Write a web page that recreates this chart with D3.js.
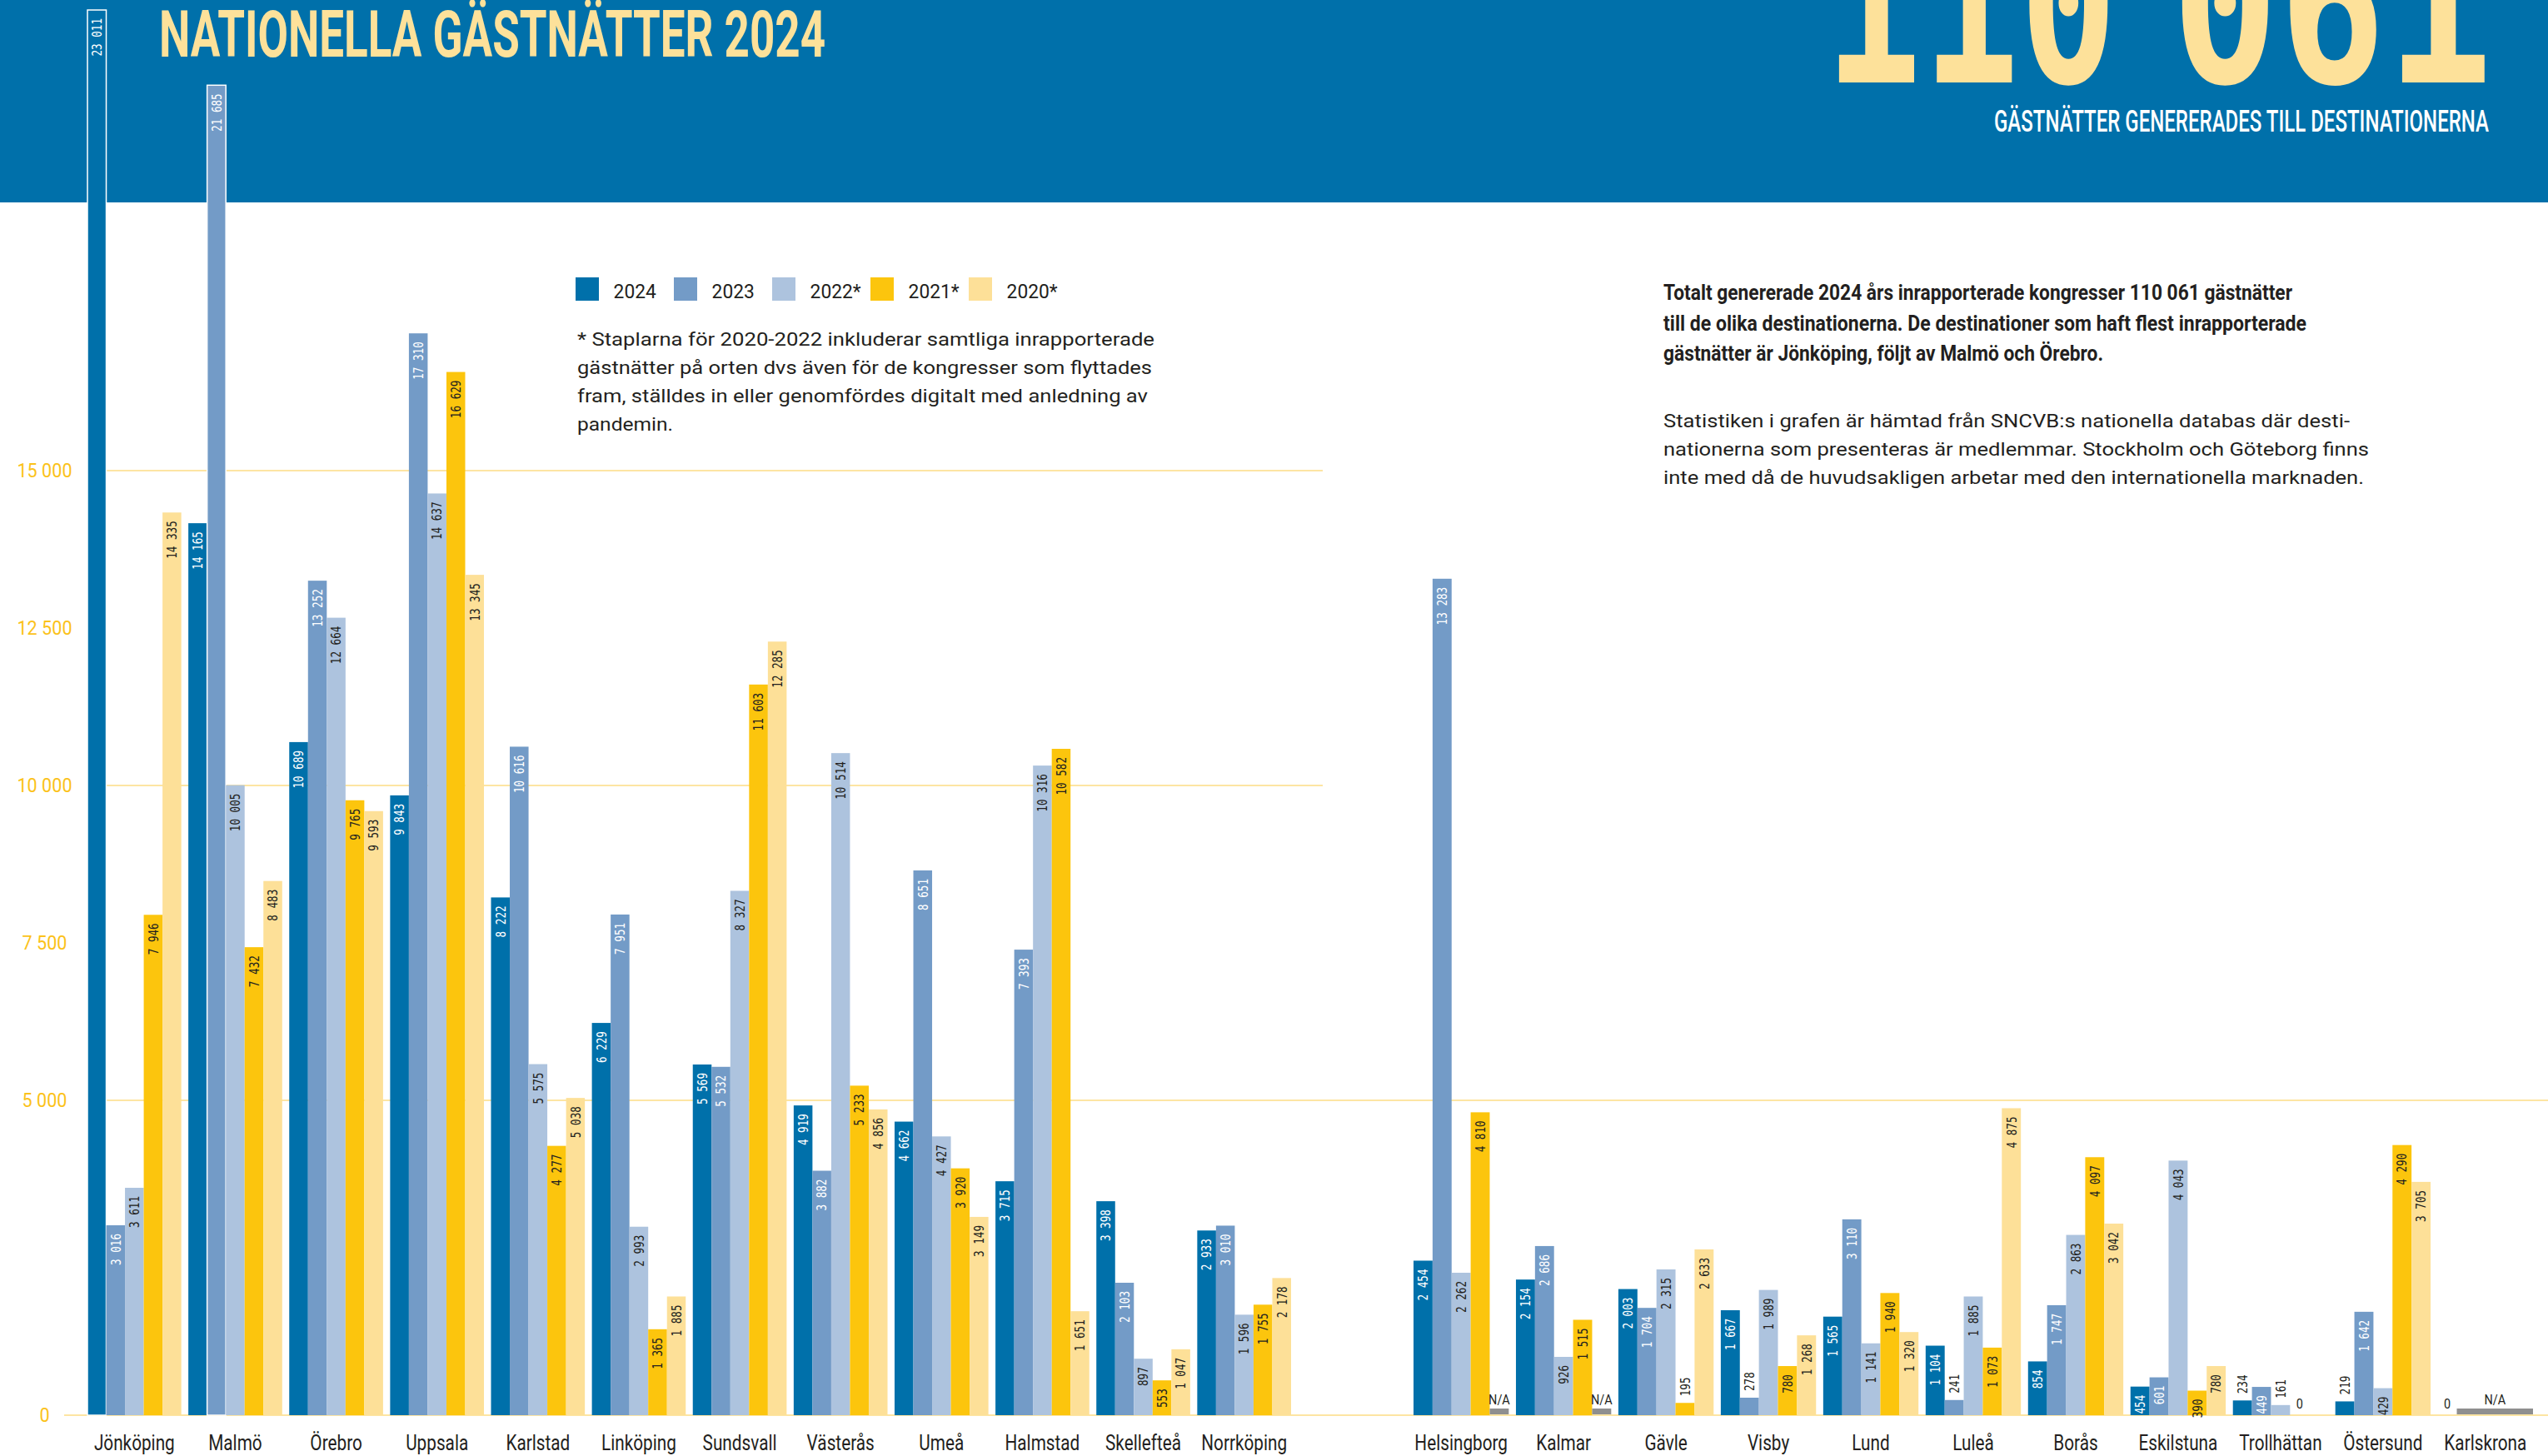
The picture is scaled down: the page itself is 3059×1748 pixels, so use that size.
<!DOCTYPE html>
<html>
<head>
<meta charset="utf-8">
<script src="https://cdn.jsdelivr.net/npm/d3@7"></script>
<style>
  body { margin: 0; background: #fff; }
  svg { display: block; }
</style>
</head>
<body>
<div id="chart"></div>
<script>
// ---- data ----
const citiesLeft = ["Jönköping", "Malmö", "Örebro", "Uppsala", "Karlstad", "Linköping",
    "Sundsvall", "Västerås", "Umeå", "Halmstad", "Skellefteå", "Norrköping"];
const citiesRight = ["Helsingborg", "Kalmar", "Gävle", "Visby", "Lund", "Luleå",
    "Borås", "Eskilstuna", "Trollhättan", "Östersund", "Karlskrona"];

const years = ["2024", "2023", "2022", "2021", "2020"];
const legendLabels = ["2024", "2023", "2022*", "2021*", "2020*"];

// one value per city (left panel first, then right panel). "NA" = N/A, null = no bar
const v2024 = [23011, 14165, 10689, 9843, 8222, 6229, 5569, 4919, 4662, 3715, 3398, 2933,
    2454, 2154, 2003, 1667, 1565, 1104, 854, 454, 234, 219, 0];
const v2023 = [3016, 21685, 13252, 17310, 10616, 7951, 5532, 3882, 8651, 7393, 2103, 3010,
    13283, 2686, 1704, 278, 3110, 241, 1747, 601, 449, 1642, "NA"];
const v2022 = [3611, 10005, 12664, 14637, 5575, 2993, 8327, 10514, 4427, 10316, 897, 1596,
    2262, 926, 2315, 1989, 1141, 1885, 2863, 4043, 161, 429, "NA"];
const v2021 = [7946, 7432, 9765, 16629, 4277, 1365, 11603, 5233, 3920, 10582, 553, 1755,
    4810, 1515, 195, 780, 1940, 1073, 4097, 390, 0, 4290, "NA"];
const v2020 = [14335, 8483, 9593, 13345, 5038, 1885, 12285, 4856, 3149, 1651, 1047, 2178,
    "NA", "NA", 2633, 1268, 1320, 4875, 3042, 780, null, 3705, "NA"];

const yTickValues = [0, 5000, 7500, 10000, 12500, 15000];
const gridValues = [0, 5000, 10000, 15000];

const titleText = "NATIONELLA GÄSTNÄTTER 2024";
const totalText = "110 061";
const subtitleText = "GÄSTNÄTTER GENERERADES TILL DESTINATIONERNA";

const noteLines = [
    "* Staplarna för 2020-2022 inkluderar samtliga inrapporterade",
    "gästnätter på orten dvs även för de kongresser som flyttades",
    "fram, ställdes in eller genomfördes digitalt med anledning av",
    "pandemin."
];
const leadLines = [
    "Totalt genererade 2024 års inrapporterade kongresser 110 061 gästnätter",
    "till de olika destinationerna. De destinationer som haft flest inrapporterade",
    "gästnätter är Jönköping, följt av Malmö och Örebro."
];
const bodyLines = [
    "Statistiken i grafen är hämtad från SNCVB:s nationella databas där desti-",
    "nationerna som presenteras är medlemmar. Stockholm och Göteborg finns",
    "inte med då de huvudsakligen arbetar med den internationella marknaden."
];

// ---- setup ----
const width = 3059;
const height = 1748;
const headerH = 243;

const colors = ["#0070aa", "#739bc7", "#adc3de", "#fcc50d", "#fde098"];
const yellow = "#fde19a";
const dark = "#231f20";
const sans = "Roboto, 'Open Sans', sans-serif";
const mono = "'DejaVu Sans Mono', 'Liberation Mono', monospace";

const fmt = d3.formatLocale({ thousands: " ", grouping: [3], decimal: ",", currency: ["", ""] }).format(",d");

const svg = d3.select("#chart").append("svg")
    .attr("width", width)
    .attr("height", height)
    .attr("viewBox", `0 0 ${width} ${height}`);

// header band
svg.append("rect")
    .attr("width", width)
    .attr("height", headerH)
    .attr("fill", "#0070aa");

// y scale: the two tallest bars are squeezed a little so they fit the page
const base = 1699;
const perUnit = 378 / 5000;
const y = d3.scaleLinear()
    .domain([0, 16000, 23011])
    .range([base, base - 16000 * perUnit, 12]);

const xLeft = d3.scaleBand().domain(citiesLeft).range([105, 1550]).paddingInner(0.07);
const xRight = d3.scaleBand().domain(citiesRight).range([1697, 3041]).paddingInner(0.07);
const subLeft = d3.scaleBand().domain(years).range([0, xLeft.bandwidth()]);
const subRight = d3.scaleBand().domain(years).range([0, xRight.bandwidth()]);

// gridlines
svg.append("g")
    .selectAll("line")
    .data(gridValues)
    .join("line")
    .attr("x1", d => d === 0 ? 77 : 106)
    .attr("x2", d => d <= 5000 ? width : 1588)
    .attr("y1", d => y(d))
    .attr("y2", d => y(d))
    .attr("stroke", "#fde5a3")
    .attr("stroke-width", 2);

// y axis labels
const yAxis = svg.append("g")
    .attr("transform", "translate(53.5,0)")
    .call(d3.axisLeft(y).tickValues(yTickValues).tickSize(0).tickPadding(0).tickFormat(fmt));
yAxis.select(".domain").remove();
yAxis.selectAll("text")
    .attr("text-anchor", "middle")
    .attr("font-family", sans)
    .attr("font-size", 24)
    .attr("fill", "#fbc21b")
    .attr("transform", "scale(0.9,1)");

// build groups
const series = [v2024, v2023, v2022, v2021, v2020];
const allCities = citiesLeft.concat(citiesRight);

const bars = [];
const naRuns = [];
allCities.forEach((city, i) => {
    const left = i < citiesLeft.length;
    const xs = left ? xLeft : xRight;
    const sub = left ? subLeft : subRight;
    const x0 = xs(city);
    let run = null;
    years.forEach((yr, j) => {
        const v = series[j][i];
        const x = x0 + sub(yr);
        if (v === "NA") {
            if (run) { run.x1 = x + sub.bandwidth(); }
            else { run = { x0: x, x1: x + sub.bandwidth() }; naRuns.push(run); }
            return;
        }
        run = null;
        if (v === null) return;
        bars.push({ city, year: j, value: v, x, w: sub.bandwidth() });
    });
});

// bars
svg.append("g")
    .selectAll("rect")
    .data(bars.filter(d => d.value > 0))
    .join("rect")
    .attr("x", d => d.x)
    .attr("width", d => d.w)
    .attr("y", d => y(d.value))
    .attr("height", d => y(0) - y(d.value))
    .attr("fill", d => colors[d.year])
    .attr("stroke", d => y(d.value) < headerH ? "#fff" : "none")
    .attr("stroke-width", 1.5);

// N/A markers
svg.append("g")
    .selectAll("rect")
    .data(naRuns)
    .join("rect")
    .attr("x", d => d.x0)
    .attr("width", d => d.x1 - d.x0)
    .attr("y", y(0) - 8)
    .attr("height", 7)
    .attr("fill", "#8f8f8f");

svg.append("g")
    .selectAll("text")
    .data(naRuns)
    .join("text")
    .attr("transform", d => `translate(${(d.x0 + d.x1) / 2},${y(0) - 13}) scale(0.85,1)`)
    .attr("text-anchor", "middle")
    .attr("font-family", sans)
    .attr("font-size", 17)
    .attr("fill", dark)
    .text("N/A");

// value labels
const labelThreshold = 300;
svg.append("g")
    .selectAll("text")
    .data(bars)
    .join("text")
    .each(function (d) {
        const t = d3.select(this);
        const cx = d.x + d.w / 2;
        const s = fmt(d.value);
        if (d.value === 0) {
            t.attr("transform", `translate(${cx},${y(0) - 8}) scale(0.85,1)`)
                .attr("text-anchor", "middle")
                .attr("font-family", sans)
                .attr("font-size", 17)
                .attr("fill", dark)
                .text(s);
            return;
        }
        const inside = d.value >= labelThreshold;
        t.attr("transform", inside
                ? `translate(${cx},${y(d.value) + 10}) rotate(-90)`
                : `translate(${cx},${y(d.value) - 8}) rotate(-90)`)
            .attr("text-anchor", inside ? "end" : "start")
            .attr("dy", "0.36em")
            .attr("font-family", mono)
            .attr("font-size", 16)
            .attr("textLength", s.length * 7.6)
            .attr("lengthAdjust", "spacingAndGlyphs")
            .attr("fill", inside && d.year < 2 ? "#fff" : dark)
            .text(s);
    });

// category labels
[xLeft, xRight].forEach(xs => {
    const g = svg.append("g")
        .attr("transform", `translate(0,${base})`)
        .call(d3.axisBottom(xs).tickSize(0).tickPadding(24));
    g.select(".domain").remove();
    g.selectAll("text")
        .attr("font-family", sans)
        .attr("font-size", 25)
        .attr("fill", dark)
        .attr("transform", "scale(0.83,1)");
});

// header texts
svg.append("text")
    .attr("x", 191)
    .attr("y", 68)
    .attr("font-family", sans)
    .attr("font-weight", 700)
    .attr("font-size", 78)
    .attr("textLength", 800)
    .attr("lengthAdjust", "spacingAndGlyphs")
    .attr("fill", yellow)
    .text(titleText);

// big total, one word per text so the gap stays narrow
const totalWords = totalText.split(" ");
const totalSpans = [[2190, 352], [2607, 386]];
svg.append("g")
    .selectAll("text")
    .data(totalWords)
    .join("text")
    .attr("x", (d, i) => totalSpans[i][0])
    .attr("y", 99)
    .attr("font-family", mono)
    .attr("font-weight", 700)
    .attr("font-size", 262)
    .attr("textLength", (d, i) => totalSpans[i][1])
    .attr("lengthAdjust", "spacingAndGlyphs")
    .attr("fill", yellow)
    .text(d => d);

svg.append("text")
    .attr("x", 2394)
    .attr("y", 158)
    .attr("font-family", sans)
    .attr("font-weight", 500)
    .attr("font-size", 36)
    .attr("textLength", 594)
    .attr("lengthAdjust", "spacingAndGlyphs")
    .attr("fill", "#fff")
    .text(subtitleText);

// legend
const legend = svg.append("g")
    .selectAll("g")
    .data(legendLabels)
    .join("g")
    .attr("transform", (d, i) => `translate(${691 + i * 118},333)`);
legend.append("rect")
    .attr("width", 28)
    .attr("height", 28)
    .attr("fill", (d, i) => colors[i]);
legend.append("text")
    .attr("x", 48)
    .attr("y", 25)
    .attr("font-family", sans)
    .attr("font-size", 24)
    .attr("fill", dark)
    .attr("transform", "scale(0.95,1)")
    .text(d => d);

// paragraphs
function paragraph(lines, x, y0, step, size, weight, widths) {
    svg.append("g")
        .selectAll("text")
        .data(lines)
        .join("text")
        .attr("x", x)
        .attr("y", (d, i) => y0 + i * step)
        .attr("font-family", sans)
        .attr("font-size", size)
        .attr("font-weight", weight)
        .attr("fill", dark)
        .attr("textLength", (d, i) => widths[i])
        .attr("lengthAdjust", "spacingAndGlyphs")
        .text(d => d);
}
paragraph(noteLines, 693, 415, 34, 22, 400, [693, 690, 685, 115]);
paragraph(leadLines, 1997, 360, 36.5, 25, 700, [755, 772, 528]);
paragraph(bodyLines, 1997, 513, 34, 22, 400, [824, 847, 841]);
</script>
</body>
</html>
